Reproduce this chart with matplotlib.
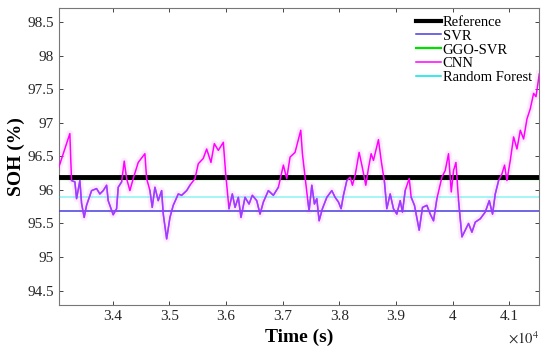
import numpy as np
import matplotlib
matplotlib.use("Agg")
import matplotlib.pyplot as plt
from matplotlib.ticker import FuncFormatter

# flat model outputs (SOH, %)
ref_soh = 96.20
svr_soh = 95.68
ggo_svr_soh = 96.16
rf_soh = 95.89

# CNN prediction
cnn_t = [33050, 33244, 33274, 33333, 33363, 33421, 33451, 33497, 33539, 33628,
         33716, 33774, 33833, 33893, 33921, 34009, 34069, 34098, 34158, 34204,
         34246, 34304, 34363, 34451, 34569, 34599, 34658, 34698, 34746, 34804,
         34864, 34893, 34953, 35011, 35069, 35158, 35218, 35306, 35364, 35453,
         35511, 35599, 35659, 35735, 35794, 35865, 35953, 35995, 36053, 36112,
         36160, 36218, 36265, 36336, 36407, 36465, 36543, 36601, 36660, 36748,
         36836, 36925, 37013, 37072, 37131, 37219, 37320, 37349, 37396, 37444,
         37467, 37515, 37561, 37603, 37644, 37702, 37780, 37868, 37926, 37985,
         38032, 38073, 38133, 38191, 38232, 38280, 38350, 38398, 38468, 38514,
         38562, 38603, 38691, 38739, 38797, 38839, 38898, 38956, 39016, 39075,
         39115, 39163, 39234, 39269, 39327, 39410, 39469, 39546, 39605, 39663,
         39723, 39811, 39870, 39928, 39976, 40017, 40059, 40105, 40165, 40223,
         40281, 40341, 40400, 40488, 40576, 40647, 40705, 40753, 40812, 40871,
         40917, 40959, 41018, 41077, 41136, 41195, 41253, 41313, 41371, 41430,
         41472, 41530]
cnn_soh = [96.34, 96.84, 96.14, 96.12, 95.87, 96.14, 95.80, 95.59, 95.77, 95.99,
           96.02, 95.94, 95.99, 96.07, 95.84, 95.63, 95.72, 96.04, 96.12, 96.43,
           96.17, 95.99, 96.17, 96.41, 96.54, 96.17, 95.99, 95.74, 96.04, 95.84,
           95.99, 95.64, 95.27, 95.59, 95.77, 95.94, 95.92, 95.99, 96.07, 96.17,
           96.39, 96.47, 96.61, 96.41, 96.69, 96.59, 96.71, 96.24, 95.72, 95.94,
           95.74, 95.89, 95.59, 95.89, 95.79, 95.92, 95.84, 95.64, 95.82, 95.99,
           95.92, 96.04, 96.37, 96.17, 96.49, 96.56, 96.89, 96.54, 96.19, 95.84,
           95.69, 96.07, 95.79, 95.87, 95.54, 95.72, 95.89, 95.99, 95.89, 95.82,
           95.72, 95.92, 96.14, 96.19, 96.07, 96.22, 96.56, 96.37, 96.07, 96.32,
           96.54, 96.44, 96.75, 96.44, 96.12, 95.72, 95.94, 95.72, 95.64, 95.84,
           95.67, 95.99, 96.17, 95.89, 95.77, 95.40, 95.74, 95.77, 95.64, 95.54,
           95.87, 96.19, 96.29, 96.54, 95.97, 96.29, 96.41, 95.84, 95.30, 95.40,
           95.50, 95.37, 95.52, 95.57, 95.67, 95.84, 95.64, 95.94, 96.14, 96.24,
           96.37, 96.14, 96.44, 96.79, 96.61, 96.89, 96.76, 97.06, 97.21, 97.44,
           97.39, 97.73]

x_ticks = [34000, 35000, 36000, 37000, 38000, 39000, 40000, 41000]
y_ticks = [94.5, 95, 95.5, 96, 96.5, 97, 97.5, 98, 98.5]

plt.rcParams["font.family"] = ["Liberation Serif", "DejaVu Serif"]
plt.rcParams["mathtext.fontset"] = "stix"

fig, ax = plt.subplots(figsize=(5.5, 3.55), dpi=100)
fig.subplots_adjust(left=0.107, right=0.98, top=0.977, bottom=0.14)

t = np.array(cnn_t, dtype=float)
y = np.array(cnn_soh)

# faint pink halo and bluish tint where CNN sits below the reference
low = np.where(y < 96.15, y, np.nan)
ax.plot(t, y, color="#ff00ff", lw=5, alpha=0.08, zorder=2)

ax.axhline(ref_soh, color="black", lw=3.5, label="Reference", zorder=3)
ax.axhline(svr_soh, color="#4a3cdc", lw=1.1, label="SVR", zorder=3)
ax.axhline(ggo_svr_soh, color="#00e000", lw=1.6, label="GGO-SVR", zorder=2.9)
ax.plot(t, y, color="#ff00ff", lw=1.1, label="CNN", zorder=4)
ax.axhline(rf_soh, color="#00e5e5", lw=1.1, alpha=0.45, label="Random Forest", zorder=3)
ax.plot(t, low, color="#6a5cff", lw=1.1, alpha=0.7, zorder=4.1)

ax.set_xlim(33050, 41525)
ax.set_ylim(94.28, 98.71)
ax.set_xticks(x_ticks)
ax.set_yticks(y_ticks)
ax.xaxis.set_major_formatter(FuncFormatter(lambda v, p: "%g" % (v / 1e4)))
ax.yaxis.set_major_formatter(FuncFormatter(lambda v, p: "%g" % v))
ax.tick_params(direction="in", top=True, right=True, labelsize=11,
               colors="#262626", length=3, width=0.6)
for s in ax.spines.values():
    s.set_color("#777777")
    s.set_linewidth(0.8)

ax.set_xlabel("Time (s)", fontsize=14, fontweight="bold", labelpad=4)
ax.set_ylabel("SOH (%)", fontsize=14, fontweight="bold", labelpad=2)
ax.text(1.0, -0.085, r"$\times10^{4}$", transform=ax.transAxes, ha="right",
        va="top", fontsize=10.5, color="#262626")

leg = ax.legend(loc="upper right", frameon=False, fontsize=10.5,
                handlelength=1.7, handletextpad=0.1, labelspacing=0.05,
                borderaxespad=0.1)
leg.legend_handles[0].set_linewidth(3)
leg.legend_handles[4].set_alpha(1)

fig.savefig("out.png", dpi=100)
